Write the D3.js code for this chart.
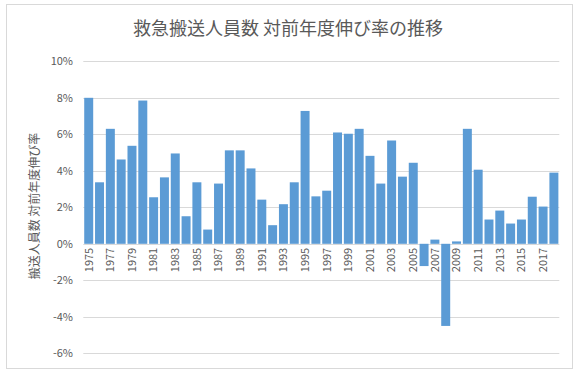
<!DOCTYPE html>
<html>

<head>
  <meta charset="UTF-8">
  <script src="https://d3js.org/d3.v7.min.js"></script>
  <style type="text/css">
    body { margin: 0; background: #fff; }
    text { font-family: "Noto Sans CJK JP", "Noto Sans", sans-serif; fill: #595959; }
  </style>
</head>

<body>
  <script type="text/javascript">
    // years and year-over-year growth (%)
    var years = d3.range(1975, 2019);
    var growth = [8.0, 3.37, 6.3, 4.62, 5.37, 7.85, 2.55, 3.64, 4.95, 1.51,
      3.37, 0.78, 3.3, 5.12, 5.12, 4.13, 2.42, 1.02, 2.17, 3.37,
      7.28, 2.6, 2.91, 6.1, 6.03, 6.3, 4.82, 3.3, 5.66, 3.68,
      4.44, -1.22, 0.23, -4.5, 0.13, 6.3, 4.06, 1.33, 1.82, 1.11,
      1.33, 2.58, 2.04, 3.9];
    var yTicks = [-6, -4, -2, 0, 2, 4, 6, 8, 10];
    var title = '救急搬送人員数 対前年度伸び率の推移';
    var yTitle = '搬送人員数 対前年度伸び率';

    var W = 586, H = 375;
    // plot area ("top" is taken by window.top, so use a margin object)
    var plot = { left: 83.3, right: 559.3, top: 61.3, bottom: 353.3 };

    var svg = d3.select('body').append('svg')
      .attr('width', W)
      .attr('height', H);

    // chart frame
    svg.append('rect')
      .attr('x', 6.5).attr('y', 4.5)
      .attr('width', 566).attr('height', 364)
      .attr('fill', '#fff')
      .attr('stroke', '#d9d9d9');

    var x = d3.scaleBand()
      .domain(years)
      .range([plot.left, plot.right])
      .paddingInner(0.17)
      .paddingOuter(0.085);

    var y = d3.scaleLinear()
      .domain([-6, 10])
      .range([plot.bottom, plot.top]);

    // gridlines
    svg.append('g')
      .selectAll('line')
      .data(yTicks)
      .enter().append('line')
      .attr('x1', plot.left).attr('x2', plot.right)
      .attr('y1', function (d) { return Math.round(y(d)) + 0.5; })
      .attr('y2', function (d) { return Math.round(y(d)) + 0.5; })
      .attr('stroke', '#d9d9d9');

    // y tick labels
    svg.append('g')
      .selectAll('text')
      .data(yTicks)
      .enter().append('text')
      .attr('x', 73)
      .attr('y', function (d) { return y(d); })
      .attr('dy', '0.35em')
      .attr('text-anchor', 'end')
      .style('font-size', '11px')
      .text(function (d) { return d + '%'; });

    // bars
    svg.append('g')
      .selectAll('rect')
      .data(growth)
      .enter().append('rect')
      .attr('x', function (d, i) { return x(years[i]); })
      .attr('width', x.bandwidth())
      .attr('y', function (d) { return y(Math.max(0, d)); })
      .attr('height', function (d) { return Math.abs(y(d) - y(0)); })
      .attr('fill', '#5b9bd5');

    // x tick labels, every other year
    svg.append('g')
      .selectAll('text')
      .data(years.filter(function (d, i) { return i % 2 === 0; }))
      .enter().append('text')
      .attr('transform', function (d) {
        return 'translate(' + (x(d) + x.bandwidth() / 2) + ',' + (y(0) + 4) + ') rotate(-90)';
      })
      .attr('dy', '0.35em')
      .attr('text-anchor', 'end')
      .style('font-size', '11px')
      .text(function (d) { return d; });

    // title
    svg.append('text')
      .attr('x', 288)
      .attr('y', 29)
      .attr('dy', '0.35em')
      .attr('text-anchor', 'middle')
      .style('font-size', '18px')
      .text(title);

    // y axis title
    svg.append('text')
      .attr('transform', 'translate(35,206) rotate(-90)')
      .attr('dy', '0.35em')
      .attr('text-anchor', 'middle')
      .style('font-size', '12px')
      .text(yTitle);
  </script>
</body>

</html>
